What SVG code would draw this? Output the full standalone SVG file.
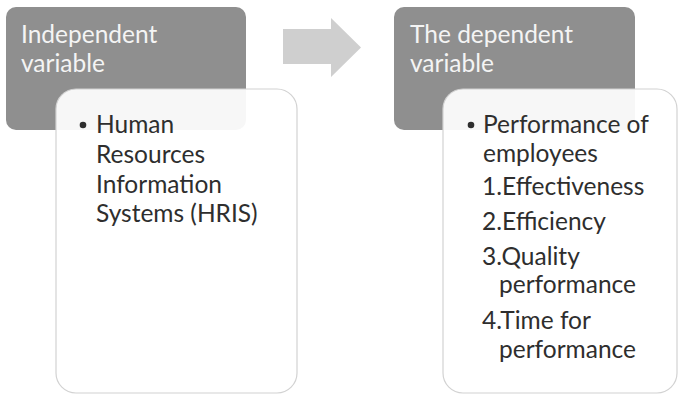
<svg xmlns="http://www.w3.org/2000/svg" width="678" height="395" viewBox="0 0 678 395">
  <style>
    .head { fill: #8f8f8f; }
    .card { fill: #ffffff; fill-opacity: 0.93; stroke: #d2d2d2; stroke-width: 1.2; }
    .flow { fill: #cfcfcf; }
    text { font-family: "Lato", "Liberation Sans", sans-serif; font-size: 24.5px; }
    .htxt { fill: #f4f4f4; }
    .btxt { fill: #2e2e2e; }
    .dot { fill: #2e2e2e; }
  </style>
  <rect width="678" height="395" fill="#ffffff"/>

  <!-- flow arrow between the two columns -->
  <g id="connectors">
    <polygon class="flow" points="283,29 331,29 331,18 361,47.5 331,77 331,64 283,64"/>
  </g>

  <!-- independent variable column -->
  <g id="independent-header">
    <rect class="head" x="6" y="7" width="240" height="123" rx="10"/>
    <text class="htxt" x="21" y="43">Independent</text>
    <text class="htxt" x="21" y="72">variable</text>
  </g>
  <g id="independent-detail">
    <rect class="card" x="56" y="89" width="241" height="304" rx="20"/>
    <circle class="dot" cx="83" cy="125" r="3.3"/>
    <text class="btxt" x="96" y="133">Human</text>
    <text class="btxt" x="96" y="163">Resources</text>
    <text class="btxt" x="96" y="193">Information</text>
    <text class="btxt" x="96" y="222">Systems (HRIS)</text>
  </g>

  <!-- dependent variable column -->
  <g id="dependent-header">
    <rect class="head" x="394" y="7" width="241" height="123" rx="10"/>
    <text class="htxt" x="410" y="43">The dependent</text>
    <text class="htxt" x="410" y="72">variable</text>
  </g>
  <g id="dependent-detail">
    <rect class="card" x="443" y="89" width="234" height="304" rx="20"/>
    <circle class="dot" cx="471" cy="125" r="3.3"/>
    <text class="btxt" x="483" y="133">Performance of</text>
    <text class="btxt" x="483" y="162">employees</text>
    <text class="btxt" x="482" y="195">1.Effectiveness</text>
    <text class="btxt" x="482" y="230">2.Efficiency</text>
    <text class="btxt" x="482" y="265">3.Quality</text>
    <text class="btxt" x="499" y="293">performance</text>
    <text class="btxt" x="482" y="329">4.Time for</text>
    <text class="btxt" x="499" y="358">performance</text>
  </g>
</svg>
